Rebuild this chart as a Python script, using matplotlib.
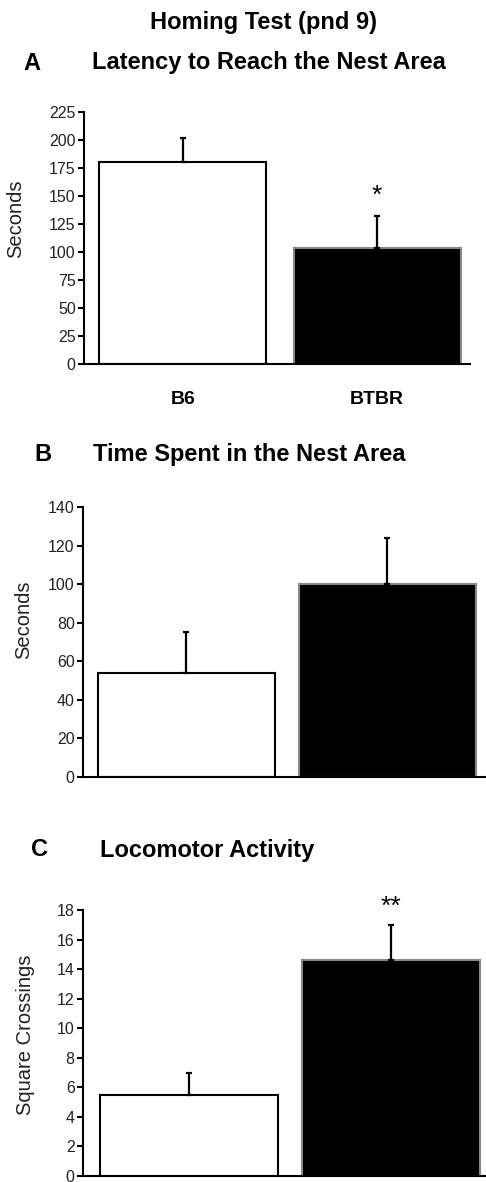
import numpy as np
import matplotlib
matplotlib.use("Agg")
import matplotlib.pyplot as plt

plt.rcParams["font.family"] = ["Liberation Sans", "DejaVu Sans"]

groups = ["B6", "BTBR"]
bar_colors = ["white", "black"]
edge_colors = ["black", "#888888"]

latency = [180, 104]
latency_err = [22, 28]

nest_time = [54, 100]
nest_time_err = [21, 24]

crossings = [5.5, 14.6]
crossings_err = [1.5, 2.4]

W, H = 486, 1182
fig = plt.figure(figsize=(W / 100, H / 100), dpi=100)


def fx(px):
    return px / W


def fy(py):
    return 1 - py / H


def panel(left, right, top, bottom, vals, errs, ymax, ystep, width, xlim,
          ylabel, label_x, label_y):
    ax = fig.add_axes([fx(left), fy(bottom), fx(right - left), fy(top) - fy(bottom)])
    x = np.arange(len(vals))
    ax.bar(x, vals, width=width, color=bar_colors, edgecolor=edge_colors,
           linewidth=1.5, zorder=2)
    ax.errorbar(x, vals, yerr=[np.zeros(len(errs)), errs], fmt="none",
                ecolor="black", elinewidth=1.6, capsize=2.5, capthick=1.6,
                zorder=3)
    ax.set_xlim(*xlim)
    ax.set_ylim(0, ymax)
    ax.set_yticks(np.arange(0, ymax + ystep / 2, ystep))
    ax.set_xticks([])
    for s in ["top", "right"]:
        ax.spines[s].set_visible(False)
    for s in ["left", "bottom"]:
        ax.spines[s].set_linewidth(1.5)
    ax.tick_params(axis="y", length=4, width=1.5, labelsize=11.5, pad=2,
                   labelcolor="#222222")
    ax.set_ylabel(ylabel, fontsize=14.5, color="#222222")
    ax.yaxis.set_label_coords(fx(label_x), fy(label_y), transform=fig.transFigure)
    return ax


# A
axA = panel(84, 470, 112, 364, latency, latency_err, 225, 25, 0.86,
            (-0.508, 1.477), "Seconds", 25, 219)
# B
axB = panel(83, 486, 507, 777, nest_time, nest_time_err, 140, 20, 0.88,
            (-0.513, 1.49), "Seconds", 33, 620)
# C
axC = panel(83, 486, 910, 1176, crossings, crossings_err, 18, 2, 0.877,
            (-0.522, 1.468), "Square Crossings", 35, 1035)

axA.text(1, 150, "*", ha="center", va="center", fontsize=19)
axC.text(1, 18.2, "**", ha="center", va="center", fontsize=19)

for i, g in enumerate(groups):
    axA.text(i, -32, g, ha="center", va="center", fontsize=14, fontweight="bold")

fig.text(fx(263), fy(22), "Homing Test (pnd 9)", ha="center", va="center",
         fontsize=17, fontweight="bold")

titles = [("A", 32, "Latency to Reach the Nest Area", 92, 63),
          ("B", 43, "Time Spent in the Nest Area", 93, 454),
          ("C", 39, "Locomotor Activity", 100, 850)]
for letter, lx, title, tx, ty in titles:
    fig.text(fx(lx), fy(ty), letter, ha="center", va="center", fontsize=17,
             fontweight="bold")
    fig.text(fx(tx), fy(ty), title, ha="left", va="center", fontsize=17,
             fontweight="bold")

fig.savefig("out.png", dpi=100)
